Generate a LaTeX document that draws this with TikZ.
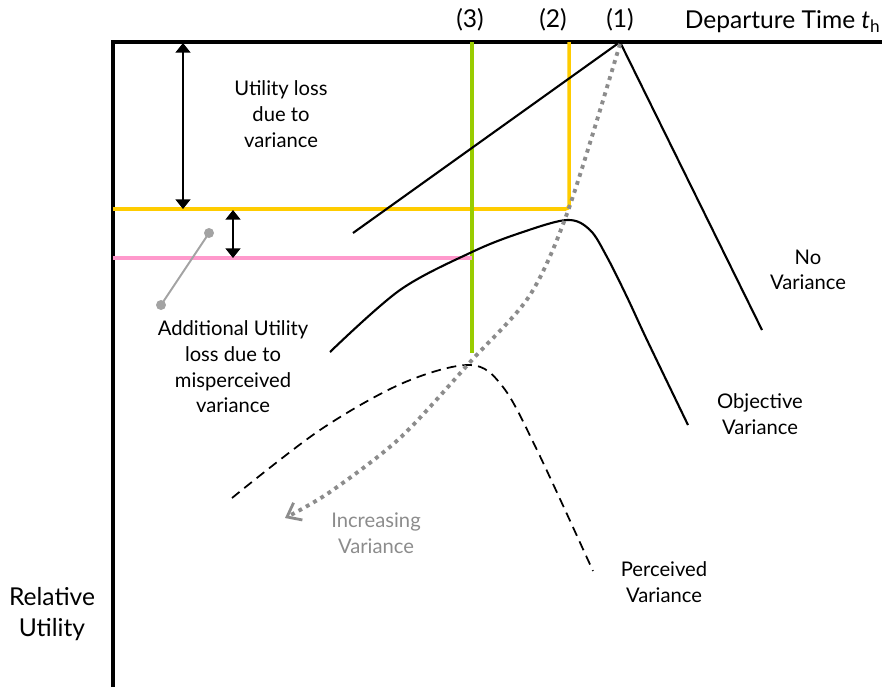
\documentclass[tikz,border=0pt]{standalone}
\usepackage{fontspec}
\setmainfont{Lato}
\usetikzlibrary{arrows.meta}
\definecolor{gold}{HTML}{FFCC00}
\definecolor{lime}{HTML}{99CC00}
\definecolor{rose}{HTML}{FF99CC}
\definecolor{ash}{HTML}{8C8C8C}

\begin{document}
\begin{tikzpicture}[x=0.02cm, y=-0.02cm,
    lbl/.style={align=center, font=\fontsize{11.5}{14.6}\selectfont},
    big/.style={align=center, font=\fontsize{14}{18}\selectfont},
    curve/.style={line width=1.2pt, line join=round},
    gap/.style={line width=1pt, {Triangle[width=8.5pt,length=5.5pt]}-{Triangle[width=8.5pt,length=5.5pt]}}]
    \useasboundingbox (0,0) rectangle (882,687);
    % Axes
    \coordinate (o) at (113,42);
    \coordinate (xend) at (882,42);
    \coordinate (yend) at (113,687);
    \draw[line width=2.3pt] (yend) -- (o) -- (xend);
    % Departure times
    \coordinate (d1) at (620,42);
    \coordinate (d2) at (569,42);
    \coordinate (d3) at (472,42);
    \coordinate (c2) at (569,209);
    \coordinate (u2) at (113,209);
    \coordinate (c3) at (472,258);
    \coordinate (u3) at (113,258);
    \coordinate (e3) at (472,353);
    \draw[gold, line width=2pt, rounded corners=2pt] (d2) -- (c2) -- (u2);
    \draw[lime, line width=2pt] (d3) -- (e3);
    \draw[rose, line width=2pt] (u3) -- (c3);
    % No variance
    \coordinate (nv0) at (353,233);
    \coordinate (nv1) at (762,330);
    \draw[curve] (nv0) -- (d1) -- (nv1);
    % Objective variance
    \draw[curve] plot[smooth, tension=0.55] coordinates {(330,352) (400,290) (472,252) (520,233) (567,220) (590,230) (607,257) (627,297) (647,340) (688,425)};
    % Perceived variance
    \draw[curve, line width=1pt, dash pattern=on 5.5pt off 3.5pt] plot[smooth, tension=0.55] coordinates {(232,498) (320,430) (403,383) (470,365) (503,387) (537,450) (593,571)};
    % Increasing variance
    \draw[ash, line width=2.2pt, dash pattern=on 2.2pt off 2.6pt, -{Straight Barb[length=7pt,width=11pt,line width=1.6pt]}] plot[smooth, tension=0.5] coordinates {(620,44) (569,208) (530,295) (472,360) (400,438) (330,492) (285,518)};
    % Utility losses
    \coordinate (a1) at (183,43);
    \coordinate (a2) at (183,209);
    \coordinate (b1) at (233,210);
    \coordinate (b2) at (233,258);
    \draw[gap] (a1) -- (a2);
    \draw[gap] (b1) -- (b2);
    \coordinate (p1) at (209,233);
    \coordinate (p2) at (161,305);
    \draw[ash!80, line width=1.1pt] (p1) -- (p2);
    \fill[ash!80] (p1) circle (5);
    \fill[ash!80] (p2) circle (5);
    % Labels
    \node[big] (l1) at (620,20) {(1)};
    \node[big] (l2) at (553,20) {(2)};
    \node[big] (l3) at (470,20) {(3)};
    \node[big, anchor=east, inner sep=0pt] (ldep) at (881,22) {Departure Time {\itshape t}\textsubscript{h}};
    \node[big] (lrel) at (52,614) {Relative\\Utility};
    \node[lbl] (lvar) at (281,114) {Utility loss\\due to\\variance};
    \node[lbl] (ladd) at (233,367) {Additional Utility\\loss due to\\misperceived\\variance};
    \node[lbl] (lnov) at (808,270) {No\\Variance};
    \node[lbl] (lobj) at (760,414) {Objective\\Variance};
    \node[lbl] (lper) at (664,582) {Perceived\\Variance};
    \node[lbl, text=ash] (linc) at (376,533) {Increasing\\Variance};
\end{tikzpicture}
\end{document}
